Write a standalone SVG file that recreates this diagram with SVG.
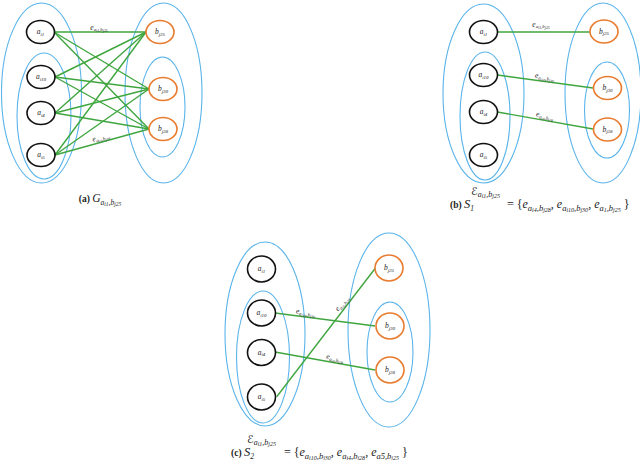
<svg xmlns="http://www.w3.org/2000/svg" width="640" height="460" viewBox="0 0 640 460">
<style>
.set{fill:none;stroke:#5ab4ea;stroke-width:1.1}
.an{fill:#fff;stroke:#111;stroke-width:1.6}
.bn{fill:#fff;stroke:#e87b2e;stroke-width:1.6}
.edge{stroke:#3fa63f;stroke-width:1.4;fill:none}
text{font-family:"Liberation Serif","DejaVu Serif",serif;font-style:italic;fill:#222}
.nl{font-size:7.5px;text-anchor:middle}
.el{font-size:7.5px;text-anchor:middle}
.s1{font-size:5px}
.s2{font-size:3.8px}
.b{font-style:normal;font-weight:bold}
.up{font-style:normal}
.scr{font-family:"DejaVu Serif","DejaVu Sans",serif;font-style:italic}
</style>
<rect width="640" height="460" fill="#fff"/>

<!-- ===== Panel (a) ===== -->
<g id="a-sets">
<ellipse class="set" cx="41.5" cy="93" rx="40" ry="90"/>
<ellipse class="set" cx="44" cy="116" rx="27" ry="63"/>
<ellipse class="set" cx="163.5" cy="93" rx="38.5" ry="90"/>
<ellipse class="set" cx="162.5" cy="107" rx="22.5" ry="50"/>
</g>
<g id="a-edges">
<line class="edge" x1="54" y1="32" x2="146" y2="32"/>
<line class="edge" x1="54" y1="32" x2="149" y2="89"/>
<line class="edge" x1="54" y1="32" x2="149" y2="129"/>
<line class="edge" x1="55" y1="77" x2="146" y2="32"/>
<line class="edge" x1="55" y1="77" x2="149" y2="89"/>
<line class="edge" x1="55" y1="77" x2="149" y2="129"/>
<line class="edge" x1="55" y1="113" x2="146" y2="32"/>
<line class="edge" x1="55" y1="113" x2="149" y2="89"/>
<line class="edge" x1="55" y1="113" x2="149" y2="129"/>
<line class="edge" x1="55" y1="155" x2="146" y2="32"/>
<line class="edge" x1="55" y1="155" x2="149" y2="89"/>
<line class="edge" x1="55" y1="155" x2="149" y2="129"/>
<text class="el" x="99" y="29.5">e<tspan class="s1" dy="1.5">a</tspan><tspan class="s2" dy="1">i1</tspan><tspan class="s1" dy="-1">,b</tspan><tspan class="s2" dy="1">j25</tspan></text>
<text class="el" transform="translate(102,141.5) rotate(-15)" x="0" y="-2">e<tspan class="s1" dy="1.5">a</tspan><tspan class="s2" dy="1">i5</tspan><tspan class="s1" dy="-1">,b</tspan><tspan class="s2" dy="1">j28</tspan></text>
</g>
<g id="a-ai1"><ellipse class="an" cx="40.5" cy="32" rx="14" ry="11.5"/><text class="nl" x="40.5" y="34">a<tspan class="s1" dy="1.5">i1</tspan></text></g>
<g id="a-ai10"><ellipse class="an" cx="41" cy="77" rx="14" ry="11.5"/><text class="nl" x="41" y="79">a<tspan class="s1" dy="1.5">i10</tspan></text></g>
<g id="a-ai4"><ellipse class="an" cx="41" cy="113" rx="14" ry="11.5"/><text class="nl" x="41" y="115">a<tspan class="s1" dy="1.5">i4</tspan></text></g>
<g id="a-ai5"><ellipse class="an" cx="41" cy="155" rx="14" ry="11.5"/><text class="nl" x="41" y="157">a<tspan class="s1" dy="1.5">i5</tspan></text></g>
<g id="a-bj25"><ellipse class="bn" cx="160" cy="32" rx="14" ry="11.5"/><text class="nl" x="160" y="34">b<tspan class="s1" dy="1.5">j25</tspan></text></g>
<g id="a-bj30"><ellipse class="bn" cx="163" cy="89" rx="14" ry="11.5"/><text class="nl" x="163" y="91">b<tspan class="s1" dy="1.5">j30</tspan></text></g>
<g id="a-bj28"><ellipse class="bn" cx="163" cy="129" rx="14" ry="11.5"/><text class="nl" x="163" y="131">b<tspan class="s1" dy="1.5">j28</tspan></text></g>
<text x="100" y="202" text-anchor="middle" font-size="11.5px"><tspan class="b" font-size="9.5px">(a) </tspan>G<tspan font-size="7.5px" dy="2.5">a</tspan><tspan font-size="5.5px" dy="1.5">i1</tspan><tspan font-size="7.5px" dy="-1.5">,b</tspan><tspan font-size="5.5px" dy="1.5">j25</tspan></text>

<!-- ===== Panel (b) ===== -->
<g id="b-sets">
<ellipse class="set" cx="483.5" cy="93.5" rx="40.5" ry="89.5"/>
<ellipse class="set" cx="485" cy="116" rx="25" ry="64"/>
<ellipse class="set" cx="603" cy="93" rx="38" ry="90"/>
<ellipse class="set" cx="607" cy="110" rx="22.5" ry="48"/>
</g>
<g id="b-edges">
<line class="edge" x1="497.5" y1="32" x2="590" y2="32"/>
<line class="edge" x1="497.5" y1="75" x2="593" y2="88"/>
<line class="edge" x1="497.5" y1="112" x2="593" y2="129"/>
<text class="el" x="541" y="26.5">e<tspan class="s1" dy="1.5">a</tspan><tspan class="s2" dy="1">i1</tspan><tspan class="s1" dy="-1">,b</tspan><tspan class="s2" dy="1">j25</tspan></text>
<text class="el" transform="translate(544,81.3) rotate(7.8)" x="0" y="-2.5">e<tspan class="s1" dy="1.5">a</tspan><tspan class="s2" dy="1">i10</tspan><tspan class="s1" dy="-1">,b</tspan><tspan class="s2" dy="1">j30</tspan></text>
<text class="el" transform="translate(544,120.2) rotate(10)" x="0" y="-2.5">e<tspan class="s1" dy="1.5">a</tspan><tspan class="s2" dy="1">i4</tspan><tspan class="s1" dy="-1">,b</tspan><tspan class="s2" dy="1">j28</tspan></text>
</g>
<g id="b-ai1"><ellipse class="an" cx="483.5" cy="32" rx="14" ry="11.5"/><text class="nl" x="483.5" y="34">a<tspan class="s1" dy="1.5">i1</tspan></text></g>
<g id="b-ai10"><ellipse class="an" cx="483.5" cy="75" rx="14" ry="11.5"/><text class="nl" x="483.5" y="77">a<tspan class="s1" dy="1.5">i10</tspan></text></g>
<g id="b-ai4"><ellipse class="an" cx="483.5" cy="112" rx="14" ry="11.5"/><text class="nl" x="483.5" y="114">a<tspan class="s1" dy="1.5">i4</tspan></text></g>
<g id="b-ai5"><ellipse class="an" cx="483.5" cy="155" rx="14" ry="11.5"/><text class="nl" x="483.5" y="157">a<tspan class="s1" dy="1.5">i5</tspan></text></g>
<g id="b-bj25"><ellipse class="bn" cx="604" cy="31.5" rx="14" ry="11.5"/><text class="nl" x="604" y="33.5">b<tspan class="s1" dy="1.5">j25</tspan></text></g>
<g id="b-bj30"><ellipse class="bn" cx="607.5" cy="88" rx="14" ry="11.5"/><text class="nl" x="607.5" y="90">b<tspan class="s1" dy="1.5">j30</tspan></text></g>
<g id="b-bj28"><ellipse class="bn" cx="607.5" cy="129.5" rx="14" ry="11.5"/><text class="nl" x="607.5" y="131.5">b<tspan class="s1" dy="1.5">j28</tspan></text></g>
<text x="450" y="208" font-size="12.5px"><tspan class="b" font-size="9.5px">(b) </tspan>S<tspan font-size="7.5px" dy="3">1</tspan></text>
<text x="471" y="195" font-size="11px"><tspan class="scr">ℰ</tspan><tspan font-size="8px" dy="2">a</tspan><tspan font-size="6px" dy="1.2">i1</tspan><tspan font-size="8px" dy="-1.2">,b</tspan><tspan font-size="6px" dy="1.2">j25</tspan></text>
<text x="507" y="208" font-size="12px"><tspan class="up">= {</tspan>e<tspan font-size="8.5px" dy="2.5">a</tspan><tspan font-size="6px" dy="1.5">i4</tspan><tspan font-size="8.5px" dy="-1.5">,b</tspan><tspan font-size="6px" dy="1.5">j28</tspan><tspan class="up" dy="-4">, </tspan>e<tspan font-size="8.5px" dy="2.5">a</tspan><tspan font-size="6px" dy="1.5">i10</tspan><tspan font-size="8.5px" dy="-1.5">,b</tspan><tspan font-size="6px" dy="1.5">j30</tspan><tspan class="up" dy="-4">, </tspan>e<tspan font-size="8.5px" dy="2.5">a</tspan><tspan font-size="6px" dy="1.5">1</tspan><tspan font-size="8.5px" dy="-1.5">,b</tspan><tspan font-size="6px" dy="1.5">j25</tspan><tspan class="up" dy="-4"> }</tspan></text>

<!-- ===== Panel (c) ===== -->
<g id="c-sets">
<ellipse class="set" cx="265" cy="334" rx="40" ry="92"/>
<ellipse class="set" cx="263" cy="357" rx="26.5" ry="66"/>
<ellipse class="set" cx="389" cy="330" rx="41" ry="97"/>
<ellipse class="set" cx="390" cy="352" rx="23" ry="50"/>
</g>
<g id="c-edges">
<line class="edge" x1="275" y1="313" x2="375" y2="326"/>
<line class="edge" x1="275" y1="352" x2="375" y2="370"/>
<line class="edge" x1="276.7" y1="396.7" x2="377" y2="266"/>
<text class="el" transform="translate(305,317) rotate(7.4)" x="0" y="-2.5">e<tspan class="s1" dy="1.5">a</tspan><tspan class="s2" dy="1">i10</tspan><tspan class="s1" dy="-1">,b</tspan><tspan class="s2" dy="1">j30</tspan></text>
<text class="el" transform="translate(334,362.6) rotate(10.2)" x="0" y="-2.5">e<tspan class="s1" dy="1.5">a</tspan><tspan class="s2" dy="1">i4</tspan><tspan class="s1" dy="-1">,b</tspan><tspan class="s2" dy="1">j28</tspan></text>
<text class="el" transform="translate(345.6,306.5) rotate(-50)" x="0" y="-2.5">e<tspan class="s1" dy="1.5">a</tspan><tspan class="s2" dy="1">i5</tspan><tspan class="s1" dy="-1">,b</tspan><tspan class="s2" dy="1">j25</tspan></text>
</g>
<g id="c-ai1"><ellipse class="an" cx="261.5" cy="269" rx="14" ry="13"/><text class="nl" x="261.5" y="271">a<tspan class="s1" dy="1.5">i1</tspan></text></g>
<g id="c-ai10"><ellipse class="an" cx="261.5" cy="313" rx="14" ry="13"/><text class="nl" x="261.5" y="315">a<tspan class="s1" dy="1.5">i10</tspan></text></g>
<g id="c-ai4"><ellipse class="an" cx="261.5" cy="352.5" rx="14" ry="13"/><text class="nl" x="261.5" y="354.5">a<tspan class="s1" dy="1.5">i4</tspan></text></g>
<g id="c-ai5"><ellipse class="an" cx="261.5" cy="397" rx="14" ry="13"/><text class="nl" x="261.5" y="399">a<tspan class="s1" dy="1.5">i5</tspan></text></g>
<g id="c-bj25"><ellipse class="bn" cx="389" cy="268" rx="14" ry="13"/><text class="nl" x="389" y="270">b<tspan class="s1" dy="1.5">j25</tspan></text></g>
<g id="c-bj30"><ellipse class="bn" cx="390" cy="326" rx="14" ry="13"/><text class="nl" x="390" y="328">b<tspan class="s1" dy="1.5">j30</tspan></text></g>
<g id="c-bj28"><ellipse class="bn" cx="390" cy="370" rx="14" ry="13"/><text class="nl" x="390" y="372">b<tspan class="s1" dy="1.5">j28</tspan></text></g>
<text x="231" y="456" font-size="12.5px"><tspan class="b" font-size="9.5px">(c) </tspan>S<tspan font-size="7.5px" dy="3">2</tspan></text>
<text x="247" y="443" font-size="11px"><tspan class="scr">ℰ</tspan><tspan font-size="8px" dy="2">a</tspan><tspan font-size="6px" dy="1.2">i1</tspan><tspan font-size="8px" dy="-1.2">,b</tspan><tspan font-size="6px" dy="1.2">j25</tspan></text>
<text x="284" y="456" font-size="12px"><tspan class="up">= {</tspan>e<tspan font-size="8.5px" dy="2.5">a</tspan><tspan font-size="6px" dy="1.5">i10</tspan><tspan font-size="8.5px" dy="-1.5">,b</tspan><tspan font-size="6px" dy="1.5">j30</tspan><tspan class="up" dy="-4">, </tspan>e<tspan font-size="8.5px" dy="2.5">a</tspan><tspan font-size="6px" dy="1.5">i4</tspan><tspan font-size="8.5px" dy="-1.5">,b</tspan><tspan font-size="6px" dy="1.5">j28</tspan><tspan class="up" dy="-4">, </tspan>e<tspan font-size="8.5px" dy="2.5">a5</tspan><tspan font-size="8.5px">,b</tspan><tspan font-size="6px" dy="1.5">j25</tspan><tspan class="up" dy="-4"> }</tspan></text>
</svg>
